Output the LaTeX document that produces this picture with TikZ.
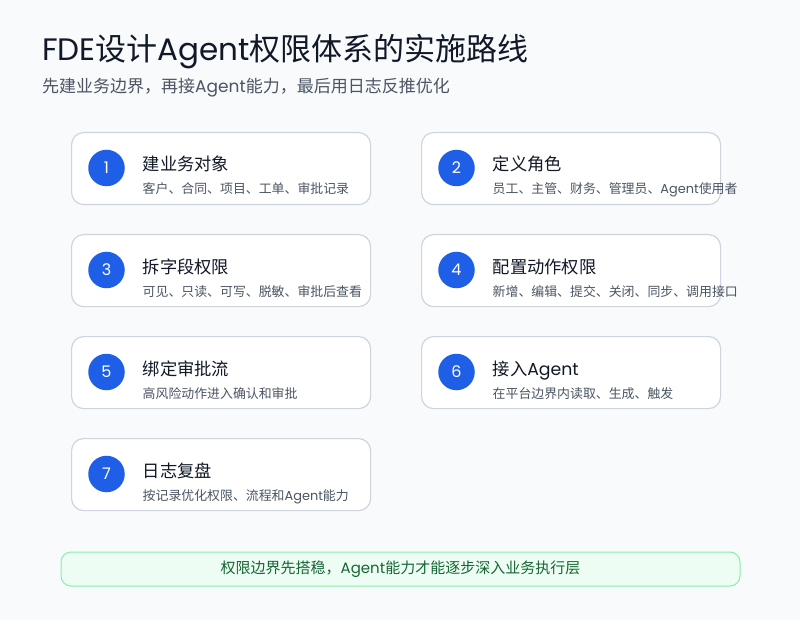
\documentclass[tikz,border=0pt]{standalone}
\usepackage{fontspec}
\setmainfont{Noto Sans CJK SC}
\newfontfamily\lat{Poppins}
\definecolor{bgc}{HTML}{F8FAFC}
\definecolor{cardline}{HTML}{CFD5DE}
\definecolor{numblue}{HTML}{1F5FE8}
\definecolor{ink}{HTML}{111827}
\definecolor{muted}{HTML}{4B5563}
\definecolor{footfill}{HTML}{EDFDF3}
\definecolor{footline}{HTML}{86EFAC}
\definecolor{footink}{HTML}{166534}
\newcommand\stepcard[6]{%
  \node[card, anchor=north west] (c#1) at (#2,#3) {};
  \node[num] (n#1) at ([xshift=35.5pt,yshift=-36pt]c#1.north west) {#4};
  \node[ttl] (t#1) at ([xshift=71.5pt,yshift=-39pt]c#1.north west) {#5};
  \node[sub] (s#1) at ([xshift=71.5pt,yshift=-62pt]c#1.north west) {#6};
}
\begin{document}
\begin{tikzpicture}[x=1pt,y=-1pt,
  card/.style={draw=cardline, line width=1.2pt, fill=white, rounded corners=12pt, minimum width=299pt, minimum height=72pt, inner sep=0},
  num/.style={circle, fill=numblue, text=white, minimum size=36.5pt, inner sep=0, font=\lat\fontsize{16}{16}\selectfont},
  ttl/.style={anchor=base west, inner sep=0, text=ink, font=\fontsize{17.3}{20}\selectfont},
  sub/.style={anchor=base west, inner sep=0, text=muted, font=\fontsize{12.9}{15}\selectfont},
  heading/.style={anchor=base west, inner sep=0, text=ink, font=\fontsize{31}{36}\selectfont},
  subhead/.style={anchor=base west, inner sep=0, text=muted, font=\fontsize{17}{20}\selectfont},
  foot/.style={draw=footline, line width=1pt, fill=footfill, rounded corners=10pt, minimum width=679pt, minimum height=34pt, inner sep=0, text=footink, font=\fontsize{15}{17}\selectfont}
]
\fill[bgc] (0,0) rectangle (800,620);
\useasboundingbox (0,0) rectangle (800,620);
\node[heading] (title) at (42,61) {{\lat FDE}设计{\lat Agent}权限体系的实施路线};
\node[subhead] (subtitle) at (42,93) {先建业务边界，再接{\lat Agent}能力，最后用日志反推优化};
\stepcard{1}{71}{132}{1}{建业务对象}{客户、合同、项目、工单、审批记录}
\stepcard{2}{421}{132}{2}{定义角色}{员工、主管、财务、管理员、{\lat Agent}使用者}
\stepcard{3}{71}{234}{3}{拆字段权限}{可见、只读、可写、脱敏、审批后查看}
\stepcard{4}{421}{234}{4}{配置动作权限}{新增、编辑、提交、关闭、同步、调用接口}
\stepcard{5}{71}{336}{5}{绑定审批流}{高风险动作进入确认和审批}
\stepcard{6}{421}{336}{6}{接入{\lat Agent}}{在平台边界内读取、生成、触发}
\stepcard{7}{71}{438}{7}{日志复盘}{按记录优化权限、流程和{\lat Agent}能力}
\node[foot] (footer) at (400.5,569) {权限边界先搭稳，{\lat Agent}能力才能逐步深入业务执行层};
\end{tikzpicture}
\end{document}
